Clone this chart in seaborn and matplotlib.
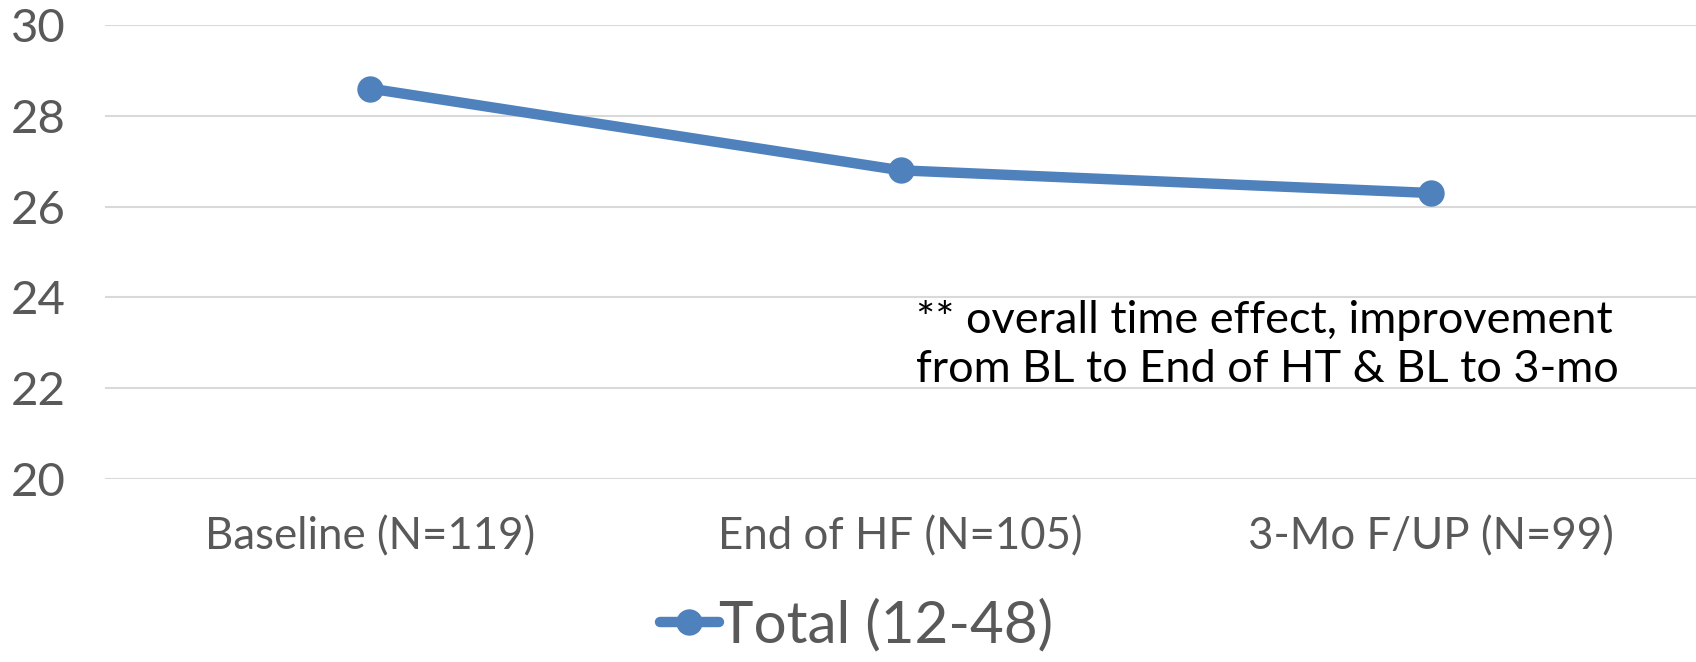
import matplotlib
matplotlib.use("Agg")
import pandas as pd
import seaborn as sns
import matplotlib.pyplot as plt

# data
timepoints = ["Baseline (N=119)", "End of HF (N=105)", "3-Mo F/UP (N=99)"]
total_scores = [28.6, 26.8, 26.3]
series_name = "Total (12-48)"
y_ticks = [20, 22, 24, 26, 28, 30]
note = "** overall time effect, improvement\nfrom BL to End of HT & BL to 3-mo"

LINE_COLOR = "#4F81BD"
TEXT_GRAY = "#595959"

sns.set_theme(style="white")
plt.rcParams["font.family"] = ["Lato", "DejaVu Sans"]

df = pd.DataFrame({"timepoint": timepoints, "score": total_scores, "series": series_name})

fig = plt.figure(figsize=(16.96, 6.62), dpi=100)
ax = fig.add_axes([0.062, 0.2764, 0.938, 0.6858])

sns.lineplot(data=df, x="timepoint", y="score", hue="series", palette=[LINE_COLOR],
             marker="o", markersize=19, markeredgewidth=0, linewidth=7.5,
             ax=ax, legend=False, solid_capstyle="round")

ax.set_xlim(-0.5, 2.5)
ax.set_ylim(20, 30)
ax.set_yticks(y_ticks)
ax.yaxis.grid(True, color="#D9D9D9", linewidth=1.5)
ax.xaxis.grid(False)
ax.set_axisbelow(True)
for s in ax.spines.values():
    s.set_visible(False)
ax.set_xlabel("")
ax.set_ylabel("")
ax.tick_params(axis="y", labelsize=34, colors=TEXT_GRAY, length=0, pad=68)
ax.tick_params(axis="x", labelsize=31.5, colors=TEXT_GRAY, length=0, pad=27)
for lab in ax.get_yticklabels():
    lab.set_horizontalalignment("left")

ax.text(1.03, 23.95, note, fontsize=32.5, color="black", va="top", ha="left",
        linespacing=1.25)

handle = plt.Line2D([], [], color=LINE_COLOR, linewidth=7.5, marker="o",
                    markersize=19, markeredgewidth=0, solid_capstyle="round")
fig.legend([handle], [series_name], loc="center", bbox_to_anchor=(0.505, 0.055),
           frameon=False, fontsize=42, handlelength=1.0, handletextpad=0.0,
           labelcolor=TEXT_GRAY)

fig.savefig("out.png", dpi=100)
